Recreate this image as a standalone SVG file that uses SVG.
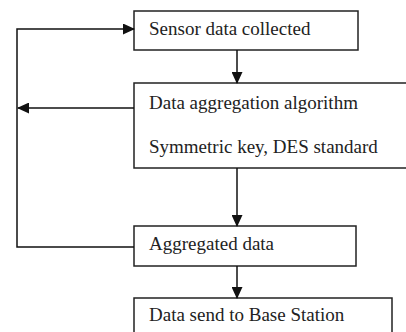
<svg xmlns="http://www.w3.org/2000/svg" width="406" height="332" viewBox="0 0 406 332">
<style>
.box{fill:#fff;stroke:#222;stroke-width:1.5}
.t{font-family:"Liberation Serif","Times New Roman",serif;font-size:19px;fill:#222}
.c{fill:none;stroke:#111;stroke-width:1.5}
</style>
<defs>
<marker id="ah" markerWidth="12" markerHeight="11" refX="11" refY="5.5" orient="auto" markerUnits="userSpaceOnUse">
<path d="M0,0 L12,5.5 L0,11 Z" fill="#111"/>
</marker>
</defs>
<rect width="406" height="332" fill="#fff"/>
<g id="n1"><rect class="box" x="134" y="11" width="224" height="39"/><text class="t" x="149" y="35">Sensor data collected</text></g>
<g id="n2"><rect class="box" x="134" y="83" width="280" height="85"/><text class="t" x="149" y="109">Data aggregation algorithm</text><text class="t" x="149" y="153">Symmetric key, DES standard</text></g>
<g id="n3"><rect class="box" x="134" y="226" width="222" height="40"/><text class="t" x="149" y="250">Aggregated data</text></g>
<g id="n4"><rect class="box" x="134" y="298" width="258" height="45"/><text class="t" x="149" y="321">Data send to Base Station</text></g>
<g id="connectors">
<path class="c" d="M237,50 V83" marker-end="url(#ah)"/>
<path class="c" d="M237,168 V226" marker-end="url(#ah)"/>
<path class="c" d="M237,266 V298" marker-end="url(#ah)"/>
<path class="c" d="M134,108 H18" marker-end="url(#ah)"/>
<path class="c" d="M134,247 H17 V29 H134" marker-end="url(#ah)"/>
</g>
</svg>
